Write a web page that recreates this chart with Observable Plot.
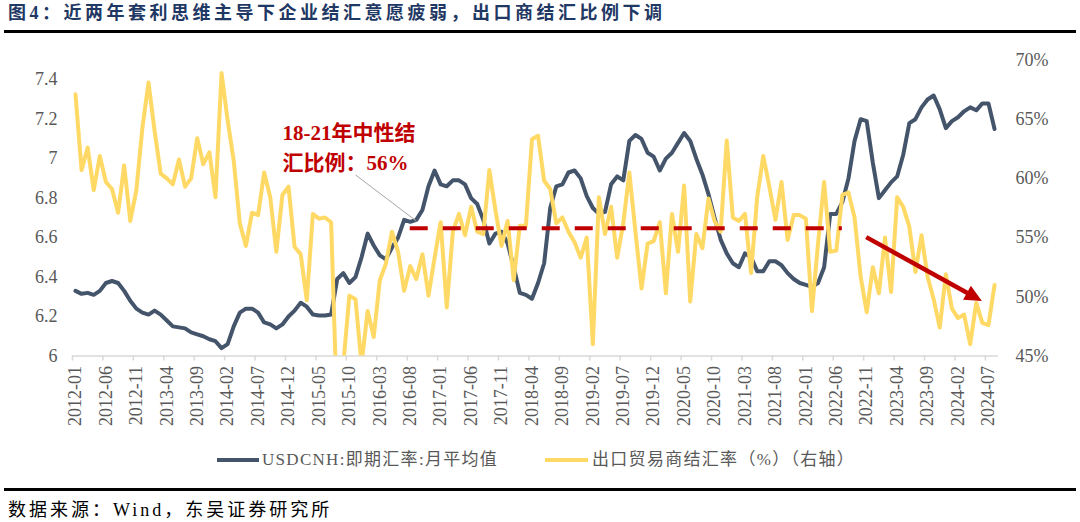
<!DOCTYPE html>
<html>
<head>
<meta charset="utf-8">
<script src="https://cdn.jsdelivr.net/npm/d3@7"></script>
<script src="https://cdn.jsdelivr.net/npm/@observablehq/plot@0.6"></script>
<style>
  html, body { margin: 0; padding: 0; background: #fff; }
  body { width: 1080px; height: 522px; overflow: hidden; position: relative;
         font-family: "Liberation Serif", "Noto Sans CJK SC", serif; }
  #title { position: absolute; left: 8px; top: 1px; line-height: 24px; font-size: 18px; font-weight: bold;
           color: #1F3864; letter-spacing: 3.5px; white-space: nowrap; }
  .rule { position: absolute; left: 4px; width: 1072px; background: #000; }
  #chart { position: absolute; left: 0; top: 36px; }
  #legend { position: absolute; left: 0; top: 448px; width: 1080px; height: 24px; color: #595959;
            font-size: 17px; line-height: 24px; letter-spacing: 1.3px; }
  #legend span { position: absolute; white-space: nowrap; }
  .sw { height: 4px; top: 10px; }
  #source { position: absolute; left: 8px; top: 498px; font-size: 18px; line-height: 24px; letter-spacing: 3px; color: #000; white-space: nowrap; }
</style>
</head>
<body>
<div id="title">图4：近两年套利思维主导下企业结汇意愿疲弱，出口商结汇比例下调</div>
<div class="rule" style="top:30px;height:3px"></div>
<div id="chart"></div>
<div id="legend">
  <span class="sw" style="left:217px;width:42px;background:#44546A"></span>
  <span id="lg1" style="left:262px;top:0"></span>
  <span class="sw" style="left:545px;width:43px;background:#FFD966"></span>
  <span id="lg2" style="left:592px;top:0"></span>
</div>
<div class="rule" style="top:488px;height:3px"></div>
<div id="source">数据来源：Wind，东吴证券研究所</div>
<script>
// ---------- data ----------
const firstMonth = "2012-01";
const lastMonth = "2024-08";
// USDCNH spot, monthly average (left axis)
const usdcnh = [
  6.33, 6.315, 6.32, 6.31, 6.33, 6.37, 6.38, 6.37, 6.33, 6.28, 6.24, 6.22,
  6.21, 6.23, 6.21, 6.18, 6.15, 6.145, 6.14, 6.12, 6.11, 6.10, 6.085, 6.075,
  6.04, 6.06, 6.15, 6.22, 6.24, 6.24, 6.22, 6.17, 6.16, 6.14, 6.16, 6.20,
  6.23, 6.27, 6.25, 6.21, 6.205, 6.205, 6.21, 6.39, 6.42, 6.37, 6.40, 6.50,
  6.62, 6.56, 6.51, 6.49, 6.55, 6.60, 6.69, 6.68, 6.69, 6.74, 6.86, 6.94,
  6.87, 6.86, 6.89, 6.89, 6.87, 6.80, 6.77, 6.69, 6.57, 6.62, 6.63, 6.57,
  6.45, 6.32, 6.31, 6.29, 6.37, 6.47, 6.75, 6.86, 6.87, 6.93, 6.94, 6.90,
  6.81, 6.75, 6.72, 6.73, 6.87, 6.91, 6.89, 7.09, 7.12, 7.10, 7.03, 7.01,
  6.94, 7.00, 7.03, 7.08, 7.13, 7.09, 7.00, 6.92, 6.82, 6.70, 6.59, 6.52,
  6.47, 6.45, 6.52, 6.50, 6.43, 6.43, 6.48, 6.48, 6.46, 6.42, 6.39, 6.37,
  6.36, 6.35, 6.37, 6.45, 6.72, 6.72, 6.78, 6.90, 7.09, 7.20, 7.19, 6.98,
  6.80, 6.84, 6.88, 6.91, 7.02, 7.18, 7.20, 7.26, 7.30, 7.32, 7.25, 7.155,
  7.19, 7.21, 7.24, 7.26, 7.245, 7.28, 7.28, 7.15
];
// Exporters' FX settlement ratio, % (right axis)
const exportRatio = [
  67.1, 60.7, 62.6, 59.0, 61.9, 59.7, 59.1, 57.1, 61.1, 56.4, 59.0, 64.3,
  68.1, 64.0, 60.4, 60.0, 59.5, 61.6, 59.3, 60.0, 63.4, 61.2, 62.2, 58.4,
  68.9, 64.9, 61.5, 56.2, 54.3, 57.1, 56.9, 60.5, 58.4, 53.8, 58.6, 59.3,
  54.2, 53.6, 49.7, 57.0, 56.6, 56.7, 56.3, 40.0, 44.3, 50.1, 49.8, 44.3,
  48.8, 46.6, 51.4, 52.8, 55.5, 53.8, 50.5, 52.6, 51.5, 53.6, 50.1, 53.3,
  56.3, 49.1, 55.5, 57.0, 55.2, 57.6, 55.5, 55.3, 60.7, 57.3, 54.3, 56.4,
  51.4, 56.0, 56.0, 63.3, 63.6, 59.8, 59.1, 56.2, 56.7, 55.5, 54.6, 53.3,
  55.0, 46.0, 58.4, 55.3, 57.6, 53.3, 56.2, 60.5, 55.5, 50.7, 54.5, 54.7,
  56.3, 50.3, 57.0, 53.8, 59.4, 49.6, 55.3, 54.1, 58.3, 56.4, 55.5, 63.2,
  56.7, 56.4, 57.0, 52.0, 58.4, 61.9, 59.3, 56.5, 59.7, 54.8, 56.9, 56.9,
  56.6, 48.8, 54.5, 59.7, 53.8, 53.9, 58.6, 58.8, 56.7, 51.7, 48.7, 52.5,
  50.3, 55.0, 50.4, 58.4, 57.6, 55.9, 52.1, 55.2, 51.7, 49.8, 47.4, 51.9,
  49.0, 48.2, 48.5, 46.0, 49.5, 47.8, 47.6, 51.0
];
const tickLabels = ["2012-01","2012-06","2012-11","2013-04","2013-09","2014-02","2014-07","2014-12",
  "2015-05","2015-10","2016-03","2016-08","2017-01","2017-06","2017-11","2018-04","2018-09",
  "2019-02","2019-07","2019-12","2020-05","2020-10","2021-03","2021-08","2022-01","2022-06",
  "2022-11","2023-04","2023-09","2024-02","2024-07"];
const leftTicks = [6, 6.2, 6.4, 6.6, 6.8, 7, 7.2, 7.4];
const leftDomain = [6, 7.5];
const rightTicks = [45, 50, 55, 60, 65, 70];
const rightDomain = [45, 70];
// 18-21 neutral settlement ratio reference line
const neutralRatio = 55.8;
const neutralSpan = ["2016-08", "2022-07"];
const noteText = "18-21年中性结\n汇比例：56%";
const notePos = ["2014-11", 62.8];
const leader = [["2015-11", 60.3], ["2016-09", 56.4]];
const trendArrow = [["2022-11", 55.0], ["2024-06", 49.6]];
const legendNames = ["USDCNH:即期汇率:月平均值", "出口贸易商结汇率（%）（右轴）"];

document.getElementById("lg1").textContent = legendNames[0];
document.getElementById("lg2").textContent = legendNames[1];

// ---------- helpers ----------
const parseM = d3.utcParse("%Y-%m");
const fmtM = d3.utcFormat("%Y-%m");
const months = d3.utcMonth.range(parseM(firstMonth), d3.utcMonth.offset(parseM(lastMonth), 1)).map(fmtM);
const idx = m => months.indexOf(m);
// map right-axis % onto the left-axis scale
const toLeft = p => leftDomain[0] + (p - rightDomain[0]) * (leftDomain[1] - leftDomain[0]) / (rightDomain[1] - rightDomain[0]);
const fromLeft = v => rightDomain[0] + (v - leftDomain[0]) * (rightDomain[1] - rightDomain[0]) / (leftDomain[1] - leftDomain[0]);
const tickIdx = tickLabels.map(idx);

const usdData = usdcnh.map((v, i) => ({i, v}));
const ratioData = exportRatio.map((p, i) => ({i, v: toLeft(p)}));

const RED = "#C00000";

function arrowMark(index, {x, y}) {
  const [a, b] = trendArrow;
  const x1 = x(idx(a[0])), y1 = y(toLeft(a[1]));
  const x2 = x(idx(b[0])), y2 = y(toLeft(b[1]));
  const ang = Math.atan2(y2 - y1, x2 - x1);
  const L = 17, W = 8;
  const c = Math.cos(ang), s = Math.sin(ang);
  const bx = x2 - L * c, by = y2 - L * s;
  const g = d3.create("svg:g");
  g.append("line").attr("x1", x1).attr("y1", y1).attr("x2", bx + 2 * c).attr("y2", by + 2 * s)
    .attr("stroke", RED).attr("stroke-width", 4.5);
  g.append("polygon")
    .attr("points", `${x2},${y2} ${bx - W * s},${by + W * c} ${bx + W * s},${by - W * c}`)
    .attr("fill", RED);
  return g.node();
}

const chart = Plot.plot({
  width: 1080,
  height: 400,
  marginLeft: 72,
  marginRight: 82,
  marginTop: 23.5,
  marginBottom: 80.5,
  style: {fontFamily: '"Liberation Serif", "Noto Sans CJK SC", serif', fontSize: "18px", color: "#595959", background: "transparent"},
  x: {domain: [-0.49, 151.65]},
  y: {domain: leftDomain},
  marks: [
    Plot.ruleY([leftDomain[0]], {stroke: "#d9d9d9", strokeWidth: 1.5}),
    Plot.axisX({ticks: tickIdx.map(i => i - 0.5), tickSize: 5, tickFormat: () => "", stroke: "#d9d9d9", strokeWidth: 1.5, label: null}),
    Plot.axisX({ticks: tickIdx, tickFormat: i => months[i], tickSize: 0, tickPadding: 10, tickRotate: -90, fill: "#595959", fontSize: 18, label: null}),
    Plot.axisY({anchor: "left", ticks: leftTicks, tickSize: 0, tickPadding: 15, tickFormat: d => String(+d.toFixed(1)), fill: "#595959", fontSize: 18, label: null}),
    Plot.axisY({anchor: "right", ticks: rightTicks.map(toLeft), tickSize: 0, tickPadding: 17, tickFormat: d => Math.round(fromLeft(d)) + "%", fill: "#595959", fontSize: 18, label: null}),
    Plot.line(usdData, {x: "i", y: "v", stroke: "#44546A", strokeWidth: 4, clip: true}),
    Plot.line(ratioData, {x: "i", y: "v", stroke: "#FFD966", strokeWidth: 4, clip: true}),
    Plot.ruleY([toLeft(neutralRatio)], {x1: idx(neutralSpan[0]), x2: idx(neutralSpan[1]), stroke: RED, strokeWidth: 4, strokeDasharray: "18,15"}),
    Plot.link([leader], {x1: d => idx(d[0][0]), y1: d => toLeft(d[0][1]), x2: d => idx(d[1][0]), y2: d => toLeft(d[1][1]), stroke: "#a6a6a6", strokeWidth: 1}),
    Plot.text([noteText], {x: idx(notePos[0]), y: toLeft(notePos[1]), text: d => d, textAnchor: "start", lineAnchor: "middle", lineHeight: 1.45, fill: RED, fontWeight: "bold", fontSize: 21, fontFamily: '"Liberation Serif", "Noto Sans CJK SC", serif'}),
    arrowMark
  ]
});
document.getElementById("chart").appendChild(chart);
</script>
</body>
</html>
